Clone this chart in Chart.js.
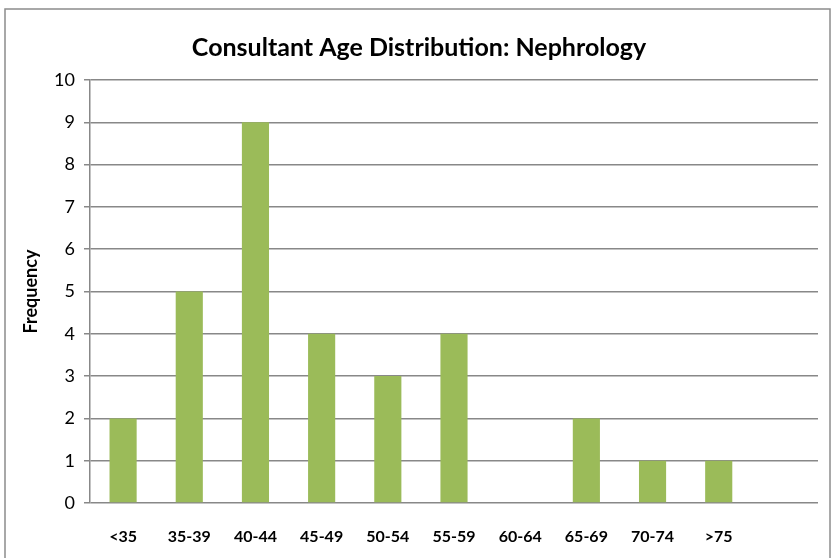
<!DOCTYPE html>
<html>
<head>
<meta charset="utf-8">
<script src="https://cdn.jsdelivr.net/npm/chart.js@4.4.0/dist/chart.umd.min.js"></script>
<style>
  html, body { margin: 0; padding: 0; background: #fff; }
  #wrap { width: 833px; height: 558px; }
</style>
</head>
<body>
<div id="wrap"><canvas id="ageChart" width="833" height="558"></canvas></div>
<script>
// data
var ageGroups = ['<35', '35-39', '40-44', '45-49', '50-54', '55-59', '60-64', '65-69', '70-74', '>75', ''];
var frequency = [2, 5, 9, 4, 3, 4, 0, 2, 1, 1];
var yTicks = [0, 1, 2, 3, 4, 5, 6, 7, 8, 9, 10];

var chartFont = 'Lato, "Open Sans", sans-serif';

// grey frame round the whole chart, like the spreadsheet export
var framePlugin = {
  id: 'frame',
  beforeDraw: function(chart) {
    var ctx = chart.ctx;
    ctx.save();
    ctx.fillStyle = '#fff';
    ctx.fillRect(0, 0, chart.width, chart.height);
    ctx.strokeStyle = '#8c8c8c';
    ctx.lineWidth = 1.5;
    ctx.strokeRect(5, 9, 825, 560);
    ctx.restore();
  }
};

var ctx = document.getElementById('ageChart').getContext('2d');
var myChart = new Chart(ctx, {
  type: 'bar',
  data: {
    labels: ageGroups,
    datasets: [{
      label: 'Frequency',
      data: frequency,
      backgroundColor: '#9bbb59',
      borderWidth: 0,
      categoryPercentage: 1,
      barPercentage: 0.41
    }]
  },
  options: {
    responsive: false,
    animation: false,
    layout: { padding: { left: 20, right: 15, top: 33, bottom: 0 } },
    plugins: {
      legend: { display: false },
      tooltip: { enabled: false },
      title: {
        display: true,
        text: 'Consultant Age Distribution: Nephrology',
        color: '#000',
        font: { family: chartFont, size: 25, weight: 'bold' },
        padding: { top: 0, bottom: 17 }
      }
    },
    scales: {
      x: {
        grid: { display: false },
        border: { display: false },
        ticks: {
          color: '#000',
          font: { family: chartFont, size: 16, weight: 'bold' },
          padding: 16,
          maxRotation: 0,
          autoSkip: false
        },
        afterFit: function(scale) { scale.height = 55; }
      },
      y: {
        min: 0,
        max: 10,
        afterBuildTicks: function(scale) {
          scale.ticks = yTicks.map(function(v) { return { value: v }; });
        },
        grid: {
          color: '#888',
          lineWidth: 1.5,
          tickLength: 6
        },
        border: { display: true, color: '#888', width: 1.5 },
        ticks: {
          color: '#000',
          font: { family: chartFont, size: 18 },
          padding: 9
        },
        title: {
          display: true,
          text: 'Frequency',
          color: '#000',
          font: { family: chartFont, size: 18, weight: 'bold' },
          padding: { top: 0, bottom: 8 }
        },
        afterFit: function(scale) { scale.width = 70; }
      }
    }
  },
  plugins: [framePlugin]
});
</script>
</body>
</html>
